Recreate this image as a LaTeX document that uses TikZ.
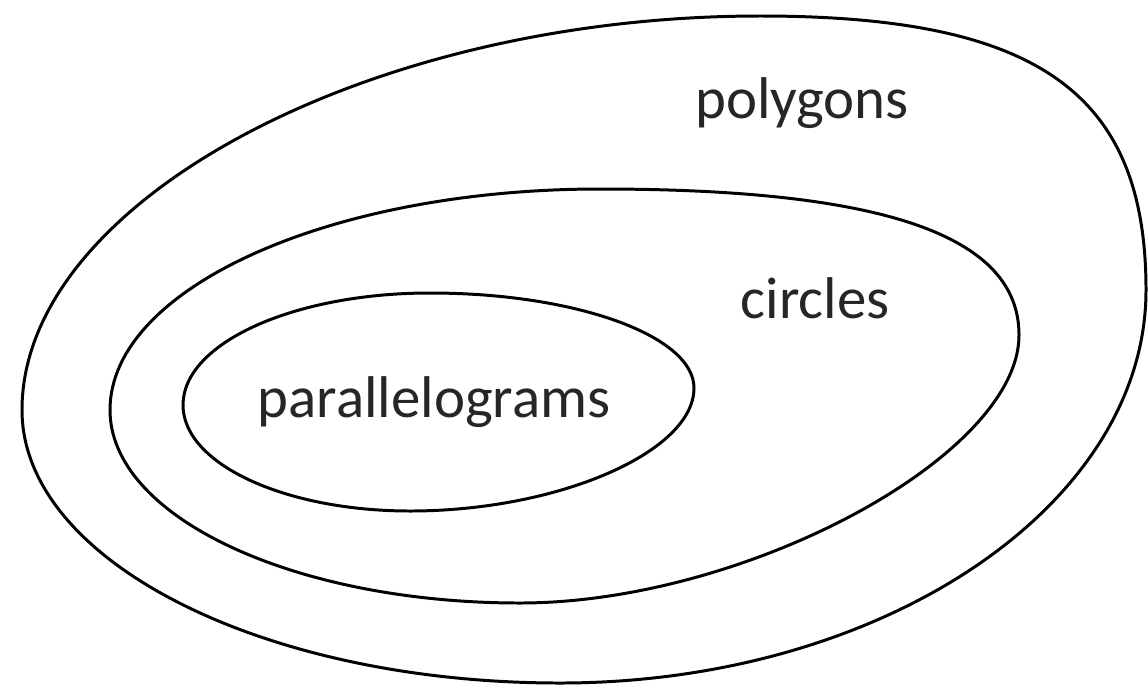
\documentclass[tikz,border=0pt]{standalone}
\usepackage{fontspec}
\setmainfont{Carlito}
\begin{document}
\begin{tikzpicture}[x=0.02cm,y=-0.02cm,
  setline/.style={line width=1.7pt,black},
  setlabel/.style={font=\fontsize{33.5}{36}\selectfont,inner sep=0pt,text=black!85}]
\useasboundingbox (0,0) rectangle (1148,687);
% outer: polygons
\draw[setline] (22,410) .. controls (22,201) and (369,16) .. (760,16)
  .. controls (1038,16) and (1146,93) .. (1146,290)
  .. controls (1146,506) and (882,683) .. (560,683)
  .. controls (263,683) and (22,561) .. (22,410) -- cycle;
% middle: circles
\draw[setline] (110,410) .. controls (110,288) and (330,189) .. (600,189)
  .. controls (885,189) and (1019,236) .. (1019,335)
  .. controls (1019,456) and (745,603) .. (520,603)
  .. controls (294,603) and (110,517) .. (110,410) -- cycle;
% inner: parallelograms
\draw[setline] (183,405) .. controls (183,343) and (294,293) .. (430,293)
  .. controls (576,293) and (694,336) .. (694,388)
  .. controls (694,452) and (558,511) .. (410,511)
  .. controls (285,511) and (183,464) .. (183,405) -- cycle;
\node[setlabel] (polygons) at (802,103) {polygons};
\node[setlabel] (circles) at (815,298) {circles};
\node[setlabel] (parallelograms) at (434,402) {parallelograms};
\end{tikzpicture}
\end{document}
